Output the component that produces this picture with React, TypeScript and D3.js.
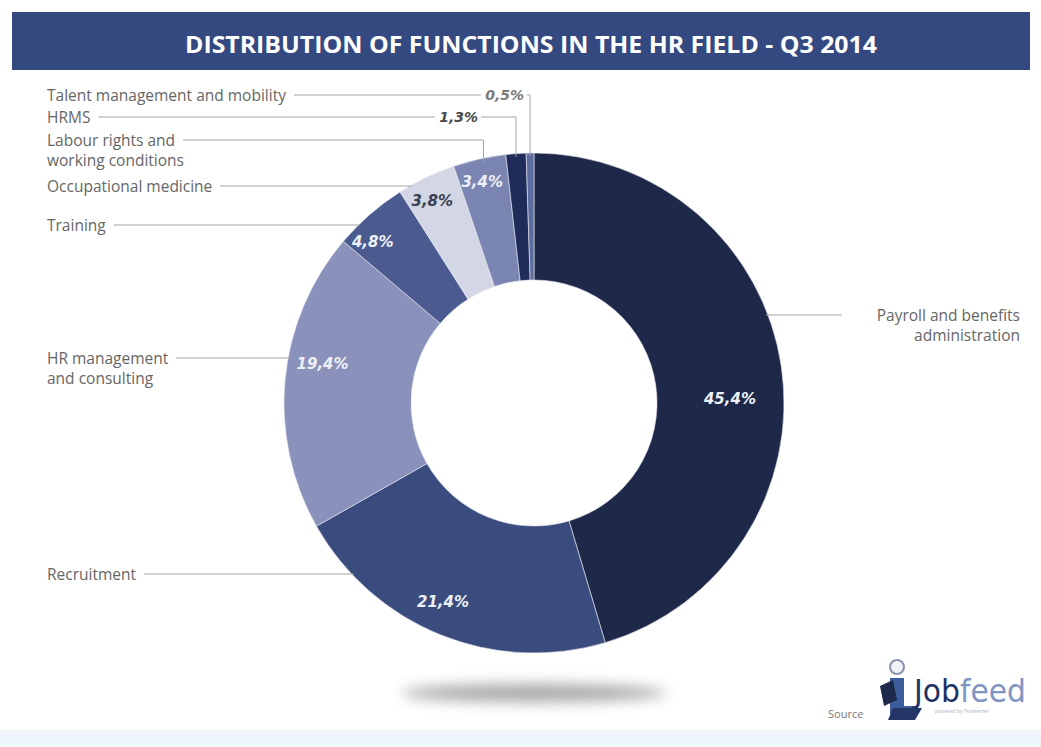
import { useEffect, useRef } from 'react';
import * as d3 from 'd3';

// slices, clockwise from 12 o'clock
const categories = [
  'Payroll and benefits administration',
  'Recruitment',
  'HR management and consulting',
  'Training',
  'Occupational medicine',
  'Labour rights and working conditions',
  'HRMS',
  'Talent management and mobility',
];
const shares = [45.4, 21.4, 19.4, 4.8, 3.8, 3.4, 1.3, 0.5];
const labelLines = [
  ['Payroll and benefits', 'administration'],
  ['Recruitment'],
  ['HR management', 'and consulting'],
  ['Training'],
  ['Occupational medicine'],
  ['Labour rights and', 'working conditions'],
  ['HRMS'],
  ['Talent management and mobility'],
];
const sliceColors = ['#1e2848', '#3a4c7d', '#8a91ba', '#4b5a8f', '#d3d6e4', '#7a85b1', '#1f2c59', '#5d6d9f'];
const title = 'DISTRIBUTION OF FUNCTIONS IN THE HR FIELD - Q3 2014';

const fmt = (v: number) => d3.format('.1f')(v).replace('.', ',') + '%';

export default function App() {
  const ref = useRef<SVGSVGElement>(null);

  useEffect(() => {
    const width = 1041;
    const height = 747;
    const svg = d3.select(ref.current);
    svg.selectAll('*').remove();
    svg.attr('width', width).attr('height', height);

    const cx = 534;
    const cy = 403;
    const outerR = 250;
    const innerR = 123;

    const defs = svg.append('defs');
    defs.append('filter').attr('id', 'blur').attr('x', '-50%').attr('y', '-200%').attr('width', '200%').attr('height', '500%')
      .append('feGaussianBlur').attr('stdDeviation', 7);

    svg.append('rect').attr('width', width).attr('height', height).attr('fill', '#fff');
    svg.append('rect').attr('x', 0).attr('y', 730).attr('width', width).attr('height', 17).attr('fill', '#eff6fb');

    // title bar
    svg.append('rect').attr('x', 12).attr('y', 12).attr('width', 1018).attr('height', 58).attr('fill', '#34497f');
    svg.append('text')
      .attr('x', 531).attr('y', 53)
      .attr('text-anchor', 'middle')
      .attr('fill', '#fff')
      .attr('font-family', '"Open Sans", sans-serif')
      .attr('font-weight', 700)
      .attr('font-size', 24)
      .attr('textLength', 692)
      .attr('lengthAdjust', 'spacingAndGlyphs')
      .text(title);

    // shadow under the donut
    svg.append('ellipse')
      .attr('cx', cx).attr('cy', 693).attr('rx', 132).attr('ry', 9)
      .attr('fill', '#8a8a8a').attr('opacity', 0.75)
      .attr('filter', 'url(#blur)');

    const pie = d3.pie<number>().sort(null).value((d) => d);
    const arcs = pie(shares);
    const arc = d3.arc<d3.PieArcDatum<number>>().innerRadius(innerR).outerRadius(outerR);

    const g = svg.append('g').attr('transform', `translate(${cx},${cy})`);
    g.selectAll('path.slice')
      .data(arcs)
      .join('path')
      .attr('class', 'slice')
      .attr('d', arc)
      .attr('fill', (_, i) => sliceColors[i])
      .attr('stroke', '#e8eaf2')
      .attr('stroke-width', 0.6);

    const valueFont = '"DejaVu Sans", sans-serif';

    // inside value labels: radius and angle nudge (deg)
    const inside = [
      { r: 196, shift: 7 },
      { r: 219, shift: 2.6 },
      { r: 215, shift: 5 },
      { r: 228, shift: -4 },
      { r: 226, shift: -1.2 },
      { r: 227, shift: -0.6 },
    ];
    inside.forEach((l, i) => {
      const a = arcs[i];
      const ang = (a.startAngle + a.endAngle) / 2 + (l.shift * Math.PI) / 180;
      g.append('text')
        .attr('x', l.r * Math.sin(ang))
        .attr('y', -l.r * Math.cos(ang))
        .attr('text-anchor', 'middle')
        .attr('dominant-baseline', 'central')
        .attr('fill', i === 4 ? '#3a3f52' : '#eef0f7')
        .attr('font-family', valueFont)
        .attr('font-style', 'italic')
        .attr('font-weight', 700)
        .attr('font-size', 15)
        .text(fmt(shares[i]));
    });

    // external category labels
    const lineColor = '#a3a3a3';
    const labelFont = '"Open Sans", sans-serif';
    const labels = [
      { x: 1020, y: 315, anchor: 'end' },
      { x: 47, y: 574, anchor: 'start' },
      { x: 47, y: 358, anchor: 'start' },
      { x: 47, y: 225, anchor: 'start' },
      { x: 47, y: 186, anchor: 'start' },
      { x: 47, y: 140, anchor: 'start' },
      { x: 47, y: 117, anchor: 'start' },
      { x: 47, y: 95, anchor: 'start' },
    ];

    const edgeX = (y: number, side: number) => cx + side * Math.sqrt(outerR * outerR - (y - cy) * (y - cy));
    const lineG = svg.append('g').attr('stroke', lineColor).attr('fill', 'none').attr('stroke-width', 1);

    labels.forEach((l, i) => {
      const t = svg.append('text')
        .attr('x', l.x).attr('y', l.y)
        .attr('text-anchor', l.anchor)
        .attr('fill', '#666')
        .attr('font-family', labelFont)
        .attr('font-size', 15.5)
        .attr('dominant-baseline', 'central');
      labelLines[i].forEach((s, k) => {
        t.append('tspan').attr('x', l.x).attr('dy', k === 0 ? 0 : 20).text(s);
      });
      const firstW = (t.select('tspan').node() as SVGTSpanElement).getComputedTextLength();
      const a = arcs[i];
      const mid = (a.startAngle + a.endAngle) / 2;

      if (l.anchor === 'end') {
        const x0 = l.x - firstW - 35;
        lineG.append('line').attr('x1', edgeX(l.y, 1) - 2).attr('x2', x0).attr('y1', l.y).attr('y2', l.y);
        return;
      }
      const x0 = l.x + firstW + 8;
      if (i <= 4) {
        lineG.append('line').attr('x1', x0).attr('x2', edgeX(l.y, -1) + 2).attr('y1', l.y).attr('y2', l.y);
        return;
      }
      // elbow lines to the small slices at the top
      const mx = outerR * Math.sin(mid);
      const my = -outerR * Math.cos(mid);
      const vx = cx + mx;
      const vy = cy + my + 3;
      if (i === 5) {
        lineG.append('path').attr('d', `M${x0},${l.y}H${vx + 4}V${vy}`);
        return;
      }
      // value shown on the leader line
      const valueEnd = i === 6 ? 478 : 524;
      const v = svg.append('text')
        .attr('x', valueEnd).attr('y', l.y)
        .attr('text-anchor', 'end')
        .attr('dominant-baseline', 'central')
        .attr('fill', i === 6 ? '#4a4a4a' : '#7a7a7a')
        .attr('font-family', valueFont)
        .attr('font-style', 'italic')
        .attr('font-weight', 700)
        .attr('font-size', 14)
        .text(fmt(shares[i]));
      const vw = (v.node() as SVGTextElement).getComputedTextLength();
      lineG.append('line').attr('x1', x0).attr('x2', valueEnd - vw - 4).attr('y1', l.y).attr('y2', l.y);
      lineG.append('path').attr('d', `M${valueEnd + 3},${l.y}H${vx}V${vy}`);
    });

    // source / logo
    svg.append('text')
      .attr('x', 828).attr('y', 718)
      .attr('fill', '#777').attr('font-family', labelFont).attr('font-size', 11)
      .text('Source');
    const logo = svg.append('g');
    logo.append('circle').attr('cx', 897).attr('cy', 667).attr('r', 7).attr('fill', '#f2f3f7').attr('stroke', '#8a93ad').attr('stroke-width', 2);
    logo.append('path').attr('d', 'M890,678 H904 V706 H918 V714 H890 Z').attr('fill', '#3d5c9c');
    logo.append('path').attr('d', 'M880,686 L893,680 L897,700 L884,706 Z').attr('fill', '#1d2a4e');
    logo.append('path').attr('d', 'M893,708 H922 L915,720 H888 Z').attr('fill', '#243566');
    const jt = logo.append('text')
      .attr('x', 914).attr('y', 702)
      .attr('font-family', '"DejaVu Sans", sans-serif')
      .attr('font-size', 32)
      .attr('textLength', 112)
      .attr('lengthAdjust', 'spacingAndGlyphs');
    jt.append('tspan').attr('fill', '#1f3264').text('Job');
    jt.append('tspan').attr('fill', '#7f95c2').text('feed');
    logo.append('text')
      .attr('x', 935).attr('y', 713)
      .attr('fill', '#a9b3c8').attr('font-family', labelFont).attr('font-size', 5)
      .text('powered by Textkernel');
  }, []);

  return <svg ref={ref} style={{ position: 'absolute', left: 0, top: 0 }}></svg>;
}
